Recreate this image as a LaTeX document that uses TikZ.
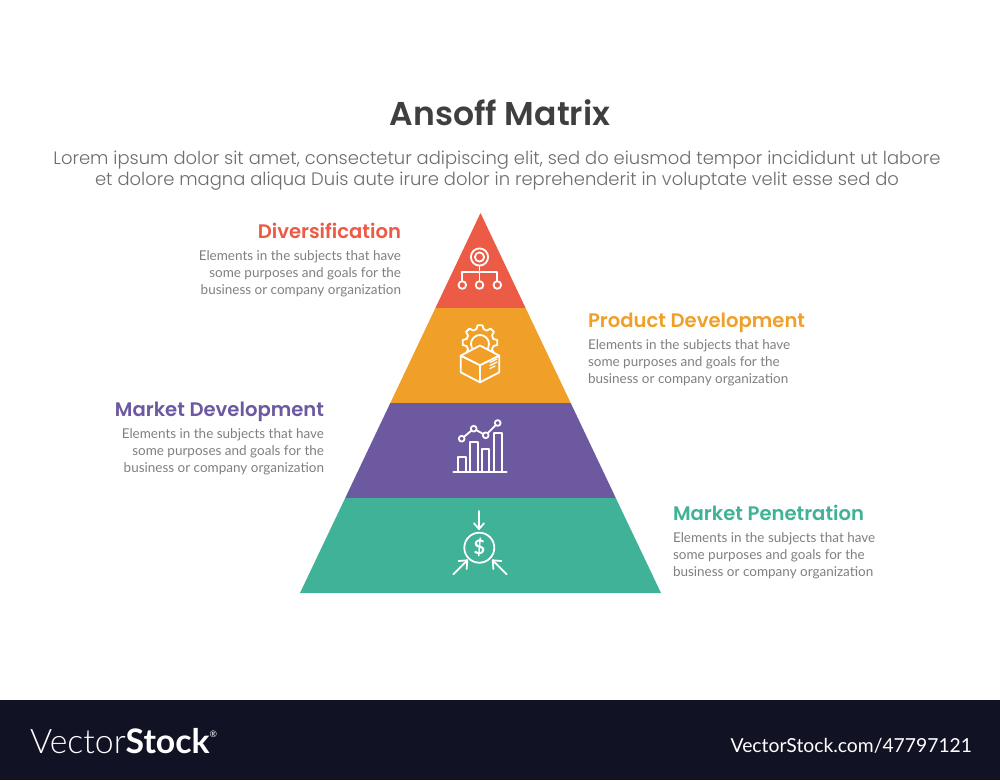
\documentclass[tikz,border=0pt]{standalone}
\usepackage{fontspec}
\setmainfont{Lato}
\newfontfamily\headfont{Poppins}[BoldFont=Poppins SemiBold]
\newfontfamily\subfont{Poppins Light}
\newfontfamily\bodyfont{Lato}
\newfontfamily\logofont{Lato Light}
\definecolor{cred}{HTML}{EC5B46}
\definecolor{corange}{HTML}{F0A028}
\definecolor{cpurple}{HTML}{6D59A0}
\definecolor{cgreen}{HTML}{3FB297}
\definecolor{cdark}{HTML}{3F3F3F}
\definecolor{cgrey}{HTML}{808080}
\definecolor{cbar}{HTML}{111325}
\tikzset{
  x=1pt,y=-1pt,
  every node/.style={inner sep=0pt,outer sep=0pt},
  heading/.style={font=\headfont\bfseries\fontsize{19.6}{23}\selectfont},
  desc/.style={font=\bodyfont\fontsize{13.5}{17}\selectfont,text=cgrey},
  icon/.style={draw=white,line width=1.8pt,line cap=round,line join=round},
}
\begin{document}
\begin{tikzpicture}
\useasboundingbox (0,0) rectangle (1000,780);
\fill[white] (0,0) rectangle (1000,780);
\fill[cbar] (0,700) rectangle (1000,780);

% pyramid
\fill[cred] (480.5,213) -- (525.6,308) -- (435.4,308) -- cycle;
\fill[corange] (435.4,308) -- (525.6,308) -- (570.7,403) -- (390.3,403) -- cycle;
\fill[cpurple] (390.3,403) -- (570.7,403) -- (615.8,498) -- (345.2,498) -- cycle;
\fill[cgreen] (345.2,498) -- (615.8,498) -- (661,593) -- (300,593) -- cycle;

% title
\node[font=\headfont\bfseries\fontsize{33}{39}\selectfont,text=cdark] (title) at (500,113) {Ansoff Matrix};
\node[font=\subfont\fontsize{17.95}{21.7}\selectfont,text=cgrey!85!black,align=center] (subtitle) at (497,170.5)
  {Lorem ipsum dolor sit amet, consectetur adipiscing elit, sed do eiusmod tempor incididunt ut labore\\
   et dolore magna aliqua Duis aute irure dolor in reprehenderit in voluptate velit esse sed do};

% labels
\node[heading,text=cred,anchor=base east] (h1) at (401,238) {Diversification};
\node[desc,anchor=east,align=right] (d1) at (401,274) {Elements in the subjects that have\\some purposes and goals for the\\business or company organization};
\node[heading,text=corange,anchor=base west] (h2) at (588,327.5) {Product Development};
\node[desc,anchor=west,align=left] (d2) at (588,363) {Elements in the subjects that have\\some purposes and goals for the\\business or company organization};
\node[heading,text=cpurple,anchor=base east] (h3) at (324,416.5) {Market Development};
\node[desc,anchor=east,align=right] (d3) at (324,452) {Elements in the subjects that have\\some purposes and goals for the\\business or company organization};
\node[heading,text=cgreen,anchor=base west] (h4) at (673,520.5) {Market Penetration};
\node[desc,anchor=west,align=left] (d4) at (673,556) {Elements in the subjects that have\\some purposes and goals for the\\business or company organization};

% icon 1: hierarchy
\begin{scope}[icon]
\draw (479.5,257) circle[radius=8.6];
\draw (479.5,257) circle[radius=4.6];
\draw (479.5,265.6) -- (479.5,281);
\draw (462.3,281) -- (462.3,272.3) -- (497.3,272.3) -- (497.3,281);
\draw (462.3,285) circle[radius=3.8];
\draw (479.5,285) circle[radius=3.8];
\draw (497.3,285) circle[radius=3.8];
\end{scope}

% icon 2: gear and box
\begin{scope}[icon]
\foreach \a in {0,45,...,315} {
  \draw[shift={(480,342.5)}] (\a-15:13.8) -- (\a-8:17.5) -- (\a+8:17.5) -- (\a+15:13.8)
     arc[start angle=\a+15,end angle=\a+30,radius=13.8];
}
\draw (480,344) circle[radius=9];
\draw[fill=corange] (480,345.5) -- (499.3,355.7) -- (480,365.3) -- (460.7,355.7) -- cycle;
\draw[fill=corange] (460.7,355.7) -- (480,365.3) -- (480,382.3) -- (460.7,372.3) -- cycle;
\draw[fill=corange] (499.3,355.7) -- (480,365.3) -- (480,382.3) -- (499.3,372.3) -- cycle;
\draw[line width=1.2pt] (490,362.5) -- (497,359);
\draw[line width=1.2pt] (490,365.5) -- (497,362);
\draw[line width=1.2pt] (490,368.5) -- (495,366);
\end{scope}

% icon 3: bar chart
\begin{scope}[icon]
\draw (453.3,472.3) -- (506.7,472.3);
\draw (458.3,472.3) -- (458.3,457.3) -- (466,457.3) -- (466,472.3);
\draw (470,472.3) -- (470,441.7) -- (477.7,441.7) -- (477.7,472.3);
\draw (482,472.3) -- (482,449.3) -- (489.3,449.3) -- (489.3,472.3);
\draw (493.7,472.3) -- (493.7,433.3) -- (501.7,433.3) -- (501.7,472.3);
\draw (461.7,438.7) circle[radius=2.9];
\draw (473.7,428.7) circle[radius=2.9];
\draw (485.7,435.3) circle[radius=2.9];
\draw (497.7,423) circle[radius=2.9];
\draw (463.9,436.9) -- (471.5,430.5);
\draw (476.3,430.1) -- (483.1,433.9);
\draw (487.7,433.2) -- (495.7,425.1);
\end{scope}

% icon 4: coin and arrows
\begin{scope}[icon]
\draw (479.3,547.7) circle[radius=15];
\draw (479,511) -- (479,529);
\draw (474,523.3) -- (479,529) -- (484,523.3);
\draw (453.3,574.3) -- (467.3,560.3);
\draw (458.5,561) -- (467.3,560.3) -- (466.6,569);
\draw (506.7,574.3) -- (492.7,560.3);
\draw (501.5,561) -- (492.7,560.3) -- (493.4,569);
\end{scope}
\node[font=\bodyfont\bfseries\fontsize{20}{22}\selectfont,text=white] (dollar) at (479.3,547.7) {\$};

% watermark
\node[anchor=base west,text=white,font=\logofont\fontsize{33.8}{40}\selectfont] (logo) at (30,753) {Vector{\bodyfont\fontseries{sb}\selectfont Stock}\raisebox{16pt}{\bodyfont\fontsize{9}{10}\selectfont\textregistered}};
\node[anchor=base east,text=white,font=\bodyfont\fontsize{19.3}{22}\selectfont] (url) at (972,752) {VectorStock.com/47797121};
\end{tikzpicture}
\end{document}
